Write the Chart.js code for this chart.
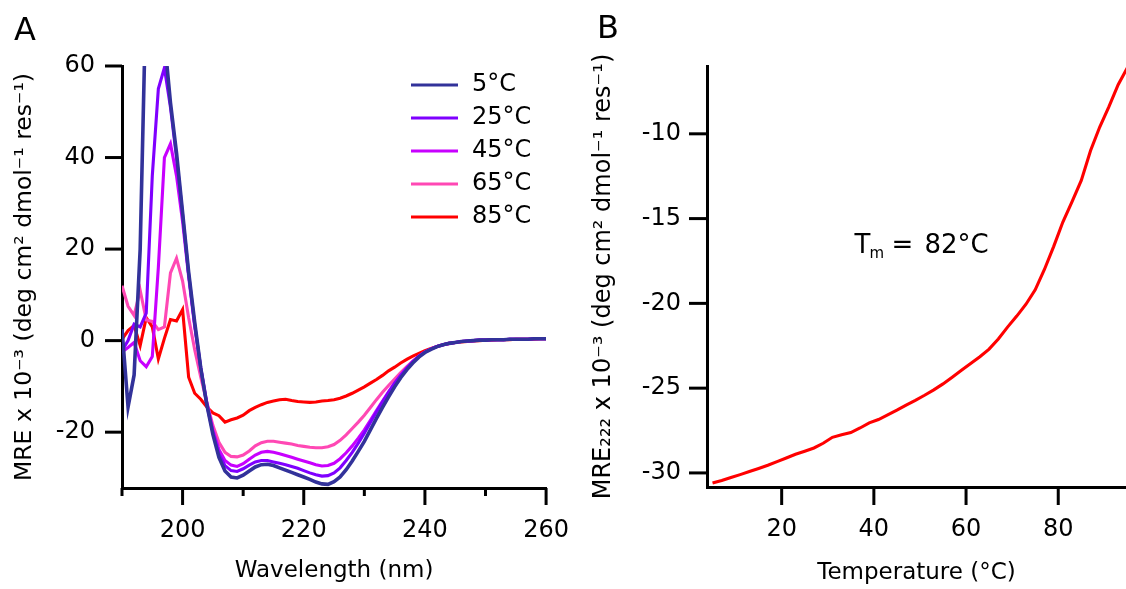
<!DOCTYPE html>
<html><head><meta charset="utf-8">
<script src="https://cdn.jsdelivr.net/npm/chart.js@4.4.1/dist/chart.umd.min.js"></script>
<style>
html,body{margin:0;padding:0;background:#fff;width:1126px;height:589px;overflow:hidden}
#wa{position:absolute;left:0;top:0;width:580px;height:589px}
#wb{position:absolute;left:580px;top:0;width:546px;height:589px}
</style></head><body>
<div id="wa"><canvas id="ca" width="580" height="589"></canvas></div>
<div id="wb"><canvas id="cb" width="546" height="589"></canvas></div>
<script>
// ---------- Panel A data ----------
const wavelength = [190,191,192,193,194,195,196,197,198,199,200,201,202,203,204,205,206,207,208,209,210,211,212,213,214,215,216,217,218,219,220,221,222,223,224,225,226,227,228,229,230,231,232,233,234,235,236,237,238,239,240,241,242,243,244,245,246,247,248,249,250,251,252,253,254,255,256,257,258,259,260];
const seriesLabels = ['5°C','25°C','45°C','65°C','85°C'];
const mre5C = [2.5,-14.5,-7.5,20,78,92,88,66,52,41,
 28,15,4,-6,-14,-20.5,-25.5,-28.5,-29.8,-30.0,
 -29.4,-28.5,-27.6,-27.1,-27.0,-27.3,-27.8,-28.3,-28.8,-29.3,
 -29.8,-30.3,-30.9,-31.3,-31.4,-30.8,-29.8,-28.2,-26.3,-24.2,
 -22.0,-19.5,-17.0,-14.6,-12.3,-10.1,-8.1,-6.4,-4.9,-3.6,
 -2.6,-1.9,-1.3,-0.9,-0.6,-0.4,-0.2,-0.1,0.0,0.1,
 0.1,0.2,0.2,0.2,0.3,0.3,0.3,0.3,0.4,0.4,0.4];
const mre25C = [-2.2,0.0,3.6,3.0,6.0,36,55,59.6,51,40,
 27.5,14.5,3.5,-6,-14,-20,-24.8,-27.3,-28.4,-28.6,
 -28.0,-27.2,-26.5,-26.2,-26.2,-26.5,-26.8,-27.1,-27.5,-27.9,
 -28.4,-28.9,-29.3,-29.6,-29.5,-28.9,-27.8,-26.2,-24.4,-22.4,
 -20.2,-17.9,-15.6,-13.4,-11.3,-9.3,-7.6,-6.0,-4.6,-3.4,
 -2.5,-1.8,-1.3,-0.9,-0.6,-0.4,-0.2,-0.1,0.0,0.1,
 0.1,0.2,0.2,0.2,0.3,0.3,0.3,0.3,0.4,0.4,0.4];
const mre45C = [-2.5,-1.5,-0.4,-4.4,-5.7,-3.5,16,40,43,36,
 26,14,3,-6,-13.5,-19.5,-23.8,-26.2,-27.2,-27.5,
 -26.9,-25.9,-25.0,-24.4,-24.2,-24.4,-24.7,-25.1,-25.5,-25.9,
 -26.3,-26.7,-27.1,-27.4,-27.3,-26.8,-25.8,-24.5,-23.0,-21.3,
 -19.5,-17.4,-15.3,-13.2,-11.2,-9.3,-7.5,-6.0,-4.6,-3.4,
 -2.5,-1.8,-1.3,-0.9,-0.6,-0.4,-0.2,-0.1,0.0,0.1,
 0.1,0.2,0.2,0.2,0.3,0.3,0.3,0.3,0.4,0.4,0.4];
const mre65C = [12,7.5,5.5,11,4.5,4.2,2.4,3.0,14.8,18,
 13,5,-2,-8,-13.5,-18.5,-22.2,-24.4,-25.3,-25.4,
 -25.0,-24.1,-23.0,-22.3,-22.0,-22.0,-22.2,-22.4,-22.6,-22.9,
 -23.1,-23.3,-23.4,-23.4,-23.2,-22.7,-21.8,-20.6,-19.2,-17.8,
 -16.3,-14.6,-12.9,-11.3,-9.8,-8.4,-7.0,-5.7,-4.5,-3.4,
 -2.5,-1.8,-1.3,-0.9,-0.6,-0.4,-0.2,-0.1,0.0,0.1,
 0.1,0.2,0.2,0.2,0.3,0.3,0.3,0.3,0.4,0.4,0.4];
const mre85C = [0.3,2.2,3.3,-1.1,5.0,3.0,-4.0,0.5,4.6,4.3,
 6.8,-8.0,-11.5,-12.8,-14.5,-15.8,-16.4,-17.8,-17.3,-16.9,
 -16.3,-15.3,-14.6,-14.0,-13.5,-13.2,-12.9,-12.8,-13.1,-13.3,
 -13.4,-13.5,-13.4,-13.2,-13.1,-12.9,-12.6,-12.1,-11.5,-10.8,
 -10.1,-9.3,-8.5,-7.6,-6.6,-5.8,-4.9,-4.1,-3.4,-2.8,
 -2.2,-1.7,-1.3,-0.9,-0.6,-0.4,-0.3,-0.2,-0.1,0.0,
 0.1,0.1,0.2,0.2,0.2,0.3,0.3,0.3,0.3,0.4,0.4];
const waveTicksMajor = [200,220,240,260];
const waveTicksMinor = [190,210,230,250];
const mreTicksA = [-20,0,20,40,60];

// ---------- Panel B data ----------
const temperature = [5,7,9,11,13,15,17,19,21,23,25,27,29,31,33,35,37,39,41,43,45,47,49,51,53,55,57,59,61,63,65,67,69,71,73,75,77,79,81,83,85,87,89,91,93,95];
const mre222 = [-30.6,-30.45,-30.27,-30.1,-29.92,-29.74,-29.55,-29.33,-29.12,-28.9,
 -28.72,-28.53,-28.25,-27.9,-27.75,-27.62,-27.35,-27.05,-26.85,-26.58,
 -26.3,-26.0,-25.72,-25.42,-25.1,-24.75,-24.35,-23.95,-23.55,-23.15,
 -22.7,-22.1,-21.4,-20.75,-20.05,-19.2,-18.0,-16.65,-15.2,-14.0,
 -12.75,-11.0,-9.6,-8.4,-7.1,-6.1];
const tempTicks = [20,40,60,80];
const mreTicksB = [-30,-25,-20,-15,-10];
const tmAnchor = [35.8, -17.0];

// ---------- styling ----------
const FONT = "'DejaVu Sans', sans-serif";
Chart.defaults.font.family = FONT;
Chart.defaults.color = '#000';
const colorsA = ['#32329A','#7F00FF','#C800FF','#FF48B4','#FF0000'];
const seriesA = [mre5C, mre25C, mre45C, mre65C, mre85C];

function tickPlugin(xLen, yLen) {
  return { id: 'tickMarks', afterDraw(chart) {
    const ctx = chart.ctx, ca = chart.chartArea, x = chart.scales.x, y = chart.scales.y;
    ctx.save(); ctx.strokeStyle = '#000'; ctx.lineWidth = 3;
    x.ticks.forEach(t => { const p = x.getPixelForValue(t.value);
      ctx.beginPath(); ctx.moveTo(p, ca.bottom); ctx.lineTo(p, ca.bottom + xLen(t.value)); ctx.stroke(); });
    y.ticks.forEach(t => { const p = y.getPixelForValue(t.value);
      ctx.beginPath(); ctx.moveTo(ca.left, p); ctx.lineTo(ca.left - yLen, p); ctx.stroke(); });
    ctx.restore();
  }};
}
function panelLabel(txt, px, py) {
  return { id: 'panelLabel', afterDraw(chart) {
    const ctx = chart.ctx; ctx.save();
    ctx.font = '32px ' + FONT; ctx.fillStyle = '#000'; ctx.textBaseline = 'alphabetic'; ctx.textAlign = 'left';
    ctx.fillText(txt, px, py); ctx.restore();
  }};
}
const legendA = { id: 'legendA', afterDraw(chart) {
  const ctx = chart.ctx; ctx.save();
  ctx.font = '24px ' + FONT; ctx.textBaseline = 'middle'; ctx.textAlign = 'left'; ctx.fillStyle = '#000';
  chart.data.datasets.forEach((ds, i) => {
    const yy = 85 + i * 33;
    ctx.strokeStyle = ds.borderColor; ctx.lineWidth = 3.2;
    ctx.beginPath(); ctx.moveTo(411, yy); ctx.lineTo(458, yy); ctx.stroke();
    ctx.fillText(ds.label, 472, yy);
  });
  ctx.restore();
}};
const tmLabel = { id: 'tmLabel', afterDraw(chart) {
  const ctx = chart.ctx, x = chart.scales.x, y = chart.scales.y;
  const px = x.getPixelForValue(tmAnchor[0]), py = y.getPixelForValue(tmAnchor[1]);
  ctx.save(); ctx.fillStyle = '#000'; ctx.textBaseline = 'alphabetic'; ctx.textAlign = 'left';
  ctx.font = '26px ' + FONT; ctx.fillText('T', px, py);
  ctx.font = '15px ' + FONT; ctx.fillText('m', px + 15, py + 5);
  ctx.font = '26px ' + FONT; ctx.fillText('=', px + 37, py);
  ctx.fillText('82°C', px + 70, py);
  ctx.restore();
}};

function ticksFrom(list) { return s => { s.ticks = list.slice().sort((a,b)=>a-b).map(v => ({value: v})); }; }
const gridOpts = { drawOnChartArea: false, tickLength: 17, tickColor: 'rgba(0,0,0,0)' };
const borderOpts = { color: '#000', width: 3 };

new Chart(document.getElementById('ca'), {
  type: 'line',
  data: { datasets: seriesA.map((s, i) => ({
    label: seriesLabels[i],
    data: wavelength.map((w, j) => ({x: w, y: s[j]})),
    borderColor: colorsA[i], backgroundColor: colorsA[i],
    borderWidth: i === 0 ? 3.6 : 3.1, pointRadius: 0, tension: 0, fill: false
  })) },
  options: {
    responsive: false, animation: false, devicePixelRatio: 1,
    layout: { padding: { left: 0, top: 66, right: 27, bottom: 0 } },
    plugins: { legend: { display: false }, tooltip: { enabled: false } },
    scales: {
      x: { type: 'linear', min: 190, max: 260,
        afterBuildTicks: ticksFrom(waveTicksMajor.concat(waveTicksMinor)),
        afterFit: s => { s.height = 101; },
        grid: gridOpts, border: borderOpts,
        ticks: { padding: 11, font: { size: 24 }, autoSkip: false, maxRotation: 0,
          callback: v => waveTicksMajor.includes(v) ? String(v) : '' },
        title: { display: true, text: 'Wavelength (nm)', font: { size: 23 }, padding: { top: 0, bottom: 4 } } },
      y: { type: 'linear', min: -32.2, max: 60,
        afterBuildTicks: ticksFrom(mreTicksA),
        afterFit: s => { s.width = 122; },
        grid: gridOpts, border: borderOpts,
        ticks: { padding: 10, font: { size: 24 }, callback: v => String(v) },
        title: { display: true, text: 'MRE x 10⁻³ (deg cm² dmol⁻¹ res⁻¹)', font: { size: 23.5 }, padding: { top: 11, bottom: 0 } } }
    }
  },
  plugins: [tickPlugin(v => waveTicksMajor.includes(v) ? 17 : 8, 17), legendA, panelLabel('A', 14, 40)]
});

new Chart(document.getElementById('cb'), {
  type: 'line',
  data: { datasets: [{
    label: 'MRE222',
    data: temperature.map((t, j) => ({x: t, y: mre222[j]})),
    borderColor: '#FF0000', backgroundColor: '#FF0000',
    borderWidth: 3.1, pointRadius: 0, tension: 0, fill: false
  }] },
  options: {
    responsive: false, animation: false, devicePixelRatio: 1,
    layout: { padding: { left: 0, top: 66, right: 0, bottom: 0 } },
    plugins: { legend: { display: false }, tooltip: { enabled: false } },
    scales: {
      x: { type: 'linear', min: 3.8, max: 94.7,
        afterBuildTicks: ticksFrom(tempTicks),
        afterFit: s => { s.height = 102; },
        grid: gridOpts, border: borderOpts,
        ticks: { padding: 11, font: { size: 24 }, autoSkip: false, maxRotation: 0, callback: v => String(v) },
        title: { display: true, text: 'Temperature (°C)', font: { size: 23 }, padding: { top: 0, bottom: 2 } } },
      y: { type: 'linear', min: -30.83, max: -6,
        afterBuildTicks: ticksFrom(mreTicksB),
        afterFit: s => { s.width = 127; },
        grid: gridOpts, border: borderOpts,
        ticks: { padding: 9, font: { size: 24 }, callback: v => String(v) },
        title: { display: true, text: 'MRE₂₂₂ x 10⁻³ (deg cm² dmol⁻¹ res⁻¹)', font: { size: 24 }, padding: { top: 9, bottom: 0 } } }
    }
  },
  plugins: [tickPlugin(() => 18, 18), tmLabel, panelLabel('B', 17, 38)]
});
</script></body></html>
